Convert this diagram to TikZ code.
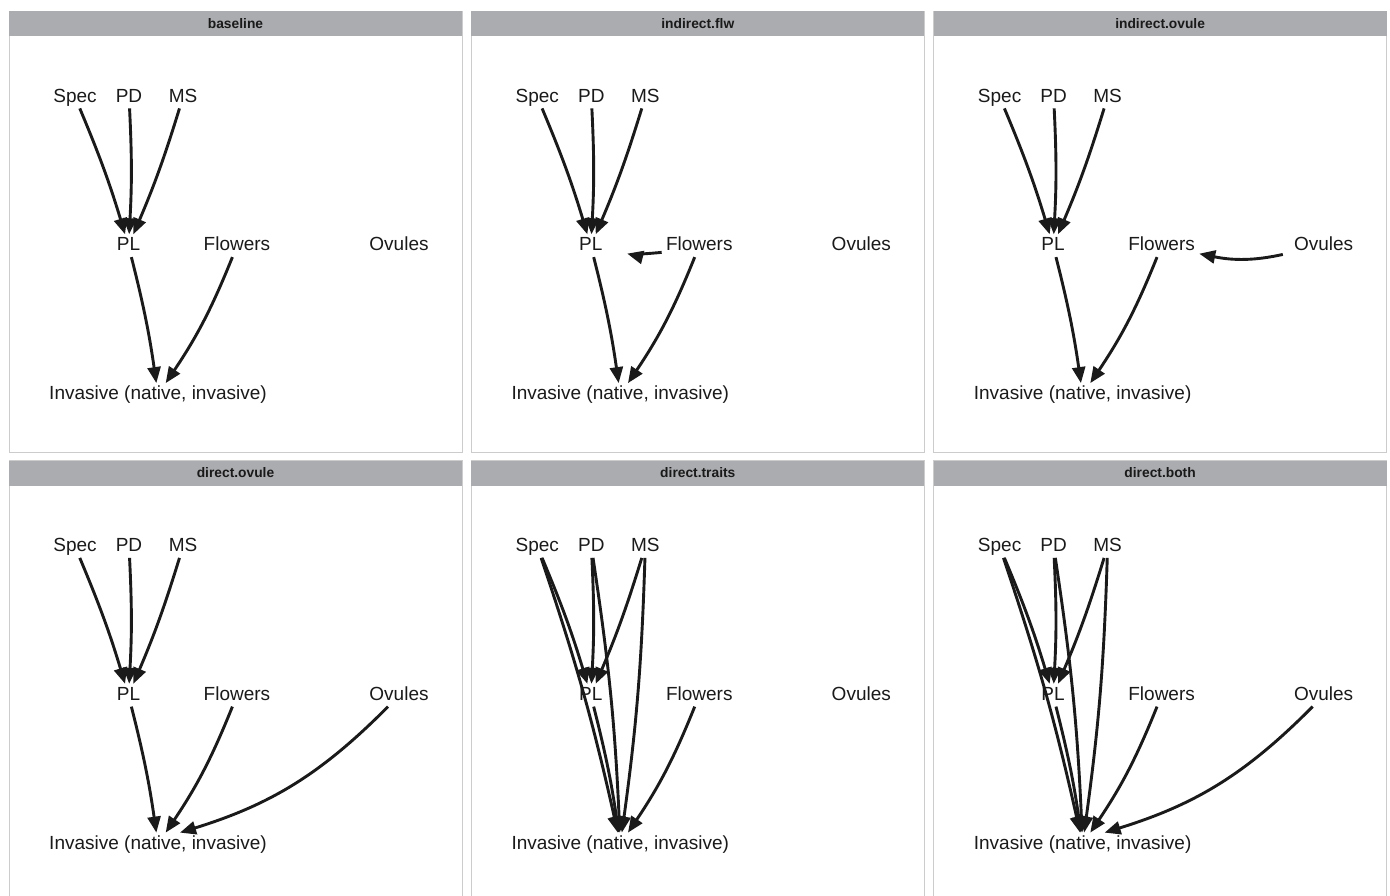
\documentclass[tikz,border=0pt]{standalone}
\usepackage{fontspec}
\setmainfont{Liberation Sans}
\usetikzlibrary{arrows.meta}

\definecolor{stripgray}{RGB}{171,172,176}
\definecolor{framegray}{RGB}{204,204,204}
\definecolor{ink}{RGB}{26,26,26}

\begin{document}
\begin{tikzpicture}[x=0.5pt, y=-0.5pt,
    varnode/.style={font=\fontsize{9.5}{11}\selectfont, text=ink, text height=7pt, text depth=2pt, inner xsep=2pt, inner ysep=1pt},
    link/.style={-{Triangle[length=8pt, width=6.5pt]}, line width=1.45pt, draw=ink, bend left=3},
    panelbox/.style={draw=framegray, line width=0.5pt, fill=white},
    stripbox/.style={fill=stripgray},
    facetlabel/.style={font=\bfseries\fontsize{6.9}{8}\selectfont, text=ink}
  ]
    \clip (0,0) rectangle (1390,895);
    \fill[white] (0,0) rectangle (1390,895);

    % Panel: baseline
    \begin{scope}[shift={(9,11)}]
      \draw[panelbox] (0,0) rectangle (453,441);
      \fill[stripbox] (0,0) rectangle (453,25);
      \node[facetlabel] (title1) at (226.5,12.5) {baseline};
      \node[varnode] (spec1) at (66,86)      {Spec};
      \node[varnode] (pd1)   at (120,86)     {PD};
      \node[varnode] (ms1)   at (174,86)     {MS};
      \node[varnode] (pl1)   at (119.5,234.7) {PL};
      \node[varnode] (flw1)  at (228,234.7)  {Flowers};
      \node[varnode] (ovu1)  at (390,234.7)  {Ovules};
      \node[varnode] (inv1)  at (149,383.5)  {Invasive (native, invasive)};
      \draw[link] (spec1) to (pl1);
      \draw[link] (pd1) to (pl1);
      \draw[link] (ms1) to (pl1);
      \draw[link] (pl1) to (inv1);
      \draw[link, bend left=6] (flw1) to (inv1);
    \end{scope}

    % Panel: indirect.flw
    \begin{scope}[shift={(471.3,11)}]
      \draw[panelbox] (0,0) rectangle (453,441);
      \fill[stripbox] (0,0) rectangle (453,25);
      \node[facetlabel] (title2) at (226.5,12.5) {indirect.flw};
      \node[varnode] (spec2) at (66,86)      {Spec};
      \node[varnode] (pd2)   at (120,86)     {PD};
      \node[varnode] (ms2)   at (174,86)     {MS};
      \node[varnode] (pl2)   at (119.5,234.7) {PL};
      \node[varnode] (flw2)  at (228,234.7)  {Flowers};
      \node[varnode] (ovu2)  at (390,234.7)  {Ovules};
      \node[varnode] (inv2)  at (149,383.5)  {Invasive (native, invasive)};
      \draw[link] (spec2) to (pl2);
      \draw[link] (pd2) to (pl2);
      \draw[link] (ms2) to (pl2);
      \draw[link] (pl2) to (inv2);
      \draw[link, bend left=6] (flw2) to (inv2);
      \draw[link, bend left=10, shorten >=10.5pt] (flw2) to (pl2);
    \end{scope}

    % Panel: indirect.ovule
    \begin{scope}[shift={(933.6,11)}]
      \draw[panelbox] (0,0) rectangle (453,441);
      \fill[stripbox] (0,0) rectangle (453,25);
      \node[facetlabel] (title3) at (226.5,12.5) {indirect.ovule};
      \node[varnode] (spec3) at (66,86)      {Spec};
      \node[varnode] (pd3)   at (120,86)     {PD};
      \node[varnode] (ms3)   at (174,86)     {MS};
      \node[varnode] (pl3)   at (119.5,234.7) {PL};
      \node[varnode] (flw3)  at (228,234.7)  {Flowers};
      \node[varnode] (ovu3)  at (390,234.7)  {Ovules};
      \node[varnode] (inv3)  at (149,383.5)  {Invasive (native, invasive)};
      \draw[link] (spec3) to (pl3);
      \draw[link] (pd3) to (pl3);
      \draw[link] (ms3) to (pl3);
      \draw[link] (pl3) to (inv3);
      \draw[link, bend left=6] (flw3) to (inv3);
      \draw[link, bend left=12, shorten <=3.5pt] (ovu3) to (flw3);
    \end{scope}

    % Panel: direct.ovule
    \begin{scope}[shift={(9,460.5)}]
      \draw[panelbox] (0,0) rectangle (453,441);
      \fill[stripbox] (0,0) rectangle (453,25);
      \node[facetlabel] (title4) at (226.5,12.5) {direct.ovule};
      \node[varnode] (spec4) at (66,86)      {Spec};
      \node[varnode] (pd4)   at (120,86)     {PD};
      \node[varnode] (ms4)   at (174,86)     {MS};
      \node[varnode] (pl4)   at (119.5,234.7) {PL};
      \node[varnode] (flw4)  at (228,234.7)  {Flowers};
      \node[varnode] (ovu4)  at (390,234.7)  {Ovules};
      \node[varnode] (inv4)  at (149,383.5)  {Invasive (native, invasive)};
      \draw[link] (spec4) to (pl4);
      \draw[link] (pd4) to (pl4);
      \draw[link] (ms4) to (pl4);
      \draw[link] (pl4) to (inv4);
      \draw[link, bend left=6] (flw4) to (inv4);
      \draw[link, bend left=14] (ovu4) to ([xshift=11pt]inv4.north);
    \end{scope}

    % Panel: direct.traits
    \begin{scope}[shift={(471.3,460.5)}]
      \draw[panelbox] (0,0) rectangle (453,441);
      \fill[stripbox] (0,0) rectangle (453,25);
      \node[facetlabel] (title5) at (226.5,12.5) {direct.traits};
      \node[varnode] (spec5) at (66,86)      {Spec};
      \node[varnode] (pd5)   at (120,86)     {PD};
      \node[varnode] (ms5)   at (174,86)     {MS};
      \node[varnode] (pl5)   at (119.5,234.7) {PL};
      \node[varnode] (flw5)  at (228,234.7)  {Flowers};
      \node[varnode] (ovu5)  at (390,234.7)  {Ovules};
      \node[varnode] (inv5)  at (149,383.5)  {Invasive (native, invasive)};
      \draw[link] (spec5) to (pl5);
      \draw[link] (pd5) to (pl5);
      \draw[link] (ms5) to (pl5);
      \draw[link] (pl5) to (inv5);
      \draw[link, bend left=6] (flw5) to (inv5);
      \draw[link] (spec5) to (inv5);
      \draw[link] (pd5) to (inv5);
      \draw[link] (ms5) to (inv5);
    \end{scope}

    % Panel: direct.both
    \begin{scope}[shift={(933.6,460.5)}]
      \draw[panelbox] (0,0) rectangle (453,441);
      \fill[stripbox] (0,0) rectangle (453,25);
      \node[facetlabel] (title6) at (226.5,12.5) {direct.both};
      \node[varnode] (spec6) at (66,86)      {Spec};
      \node[varnode] (pd6)   at (120,86)     {PD};
      \node[varnode] (ms6)   at (174,86)     {MS};
      \node[varnode] (pl6)   at (119.5,234.7) {PL};
      \node[varnode] (flw6)  at (228,234.7)  {Flowers};
      \node[varnode] (ovu6)  at (390,234.7)  {Ovules};
      \node[varnode] (inv6)  at (149,383.5)  {Invasive (native, invasive)};
      \draw[link] (spec6) to (pl6);
      \draw[link] (pd6) to (pl6);
      \draw[link] (ms6) to (pl6);
      \draw[link] (pl6) to (inv6);
      \draw[link, bend left=6] (flw6) to (inv6);
      \draw[link] (spec6) to (inv6);
      \draw[link] (pd6) to (inv6);
      \draw[link] (ms6) to (inv6);
      \draw[link, bend left=14] (ovu6) to ([xshift=11pt]inv6.north);
    \end{scope}
  \end{tikzpicture}
\end{document}
